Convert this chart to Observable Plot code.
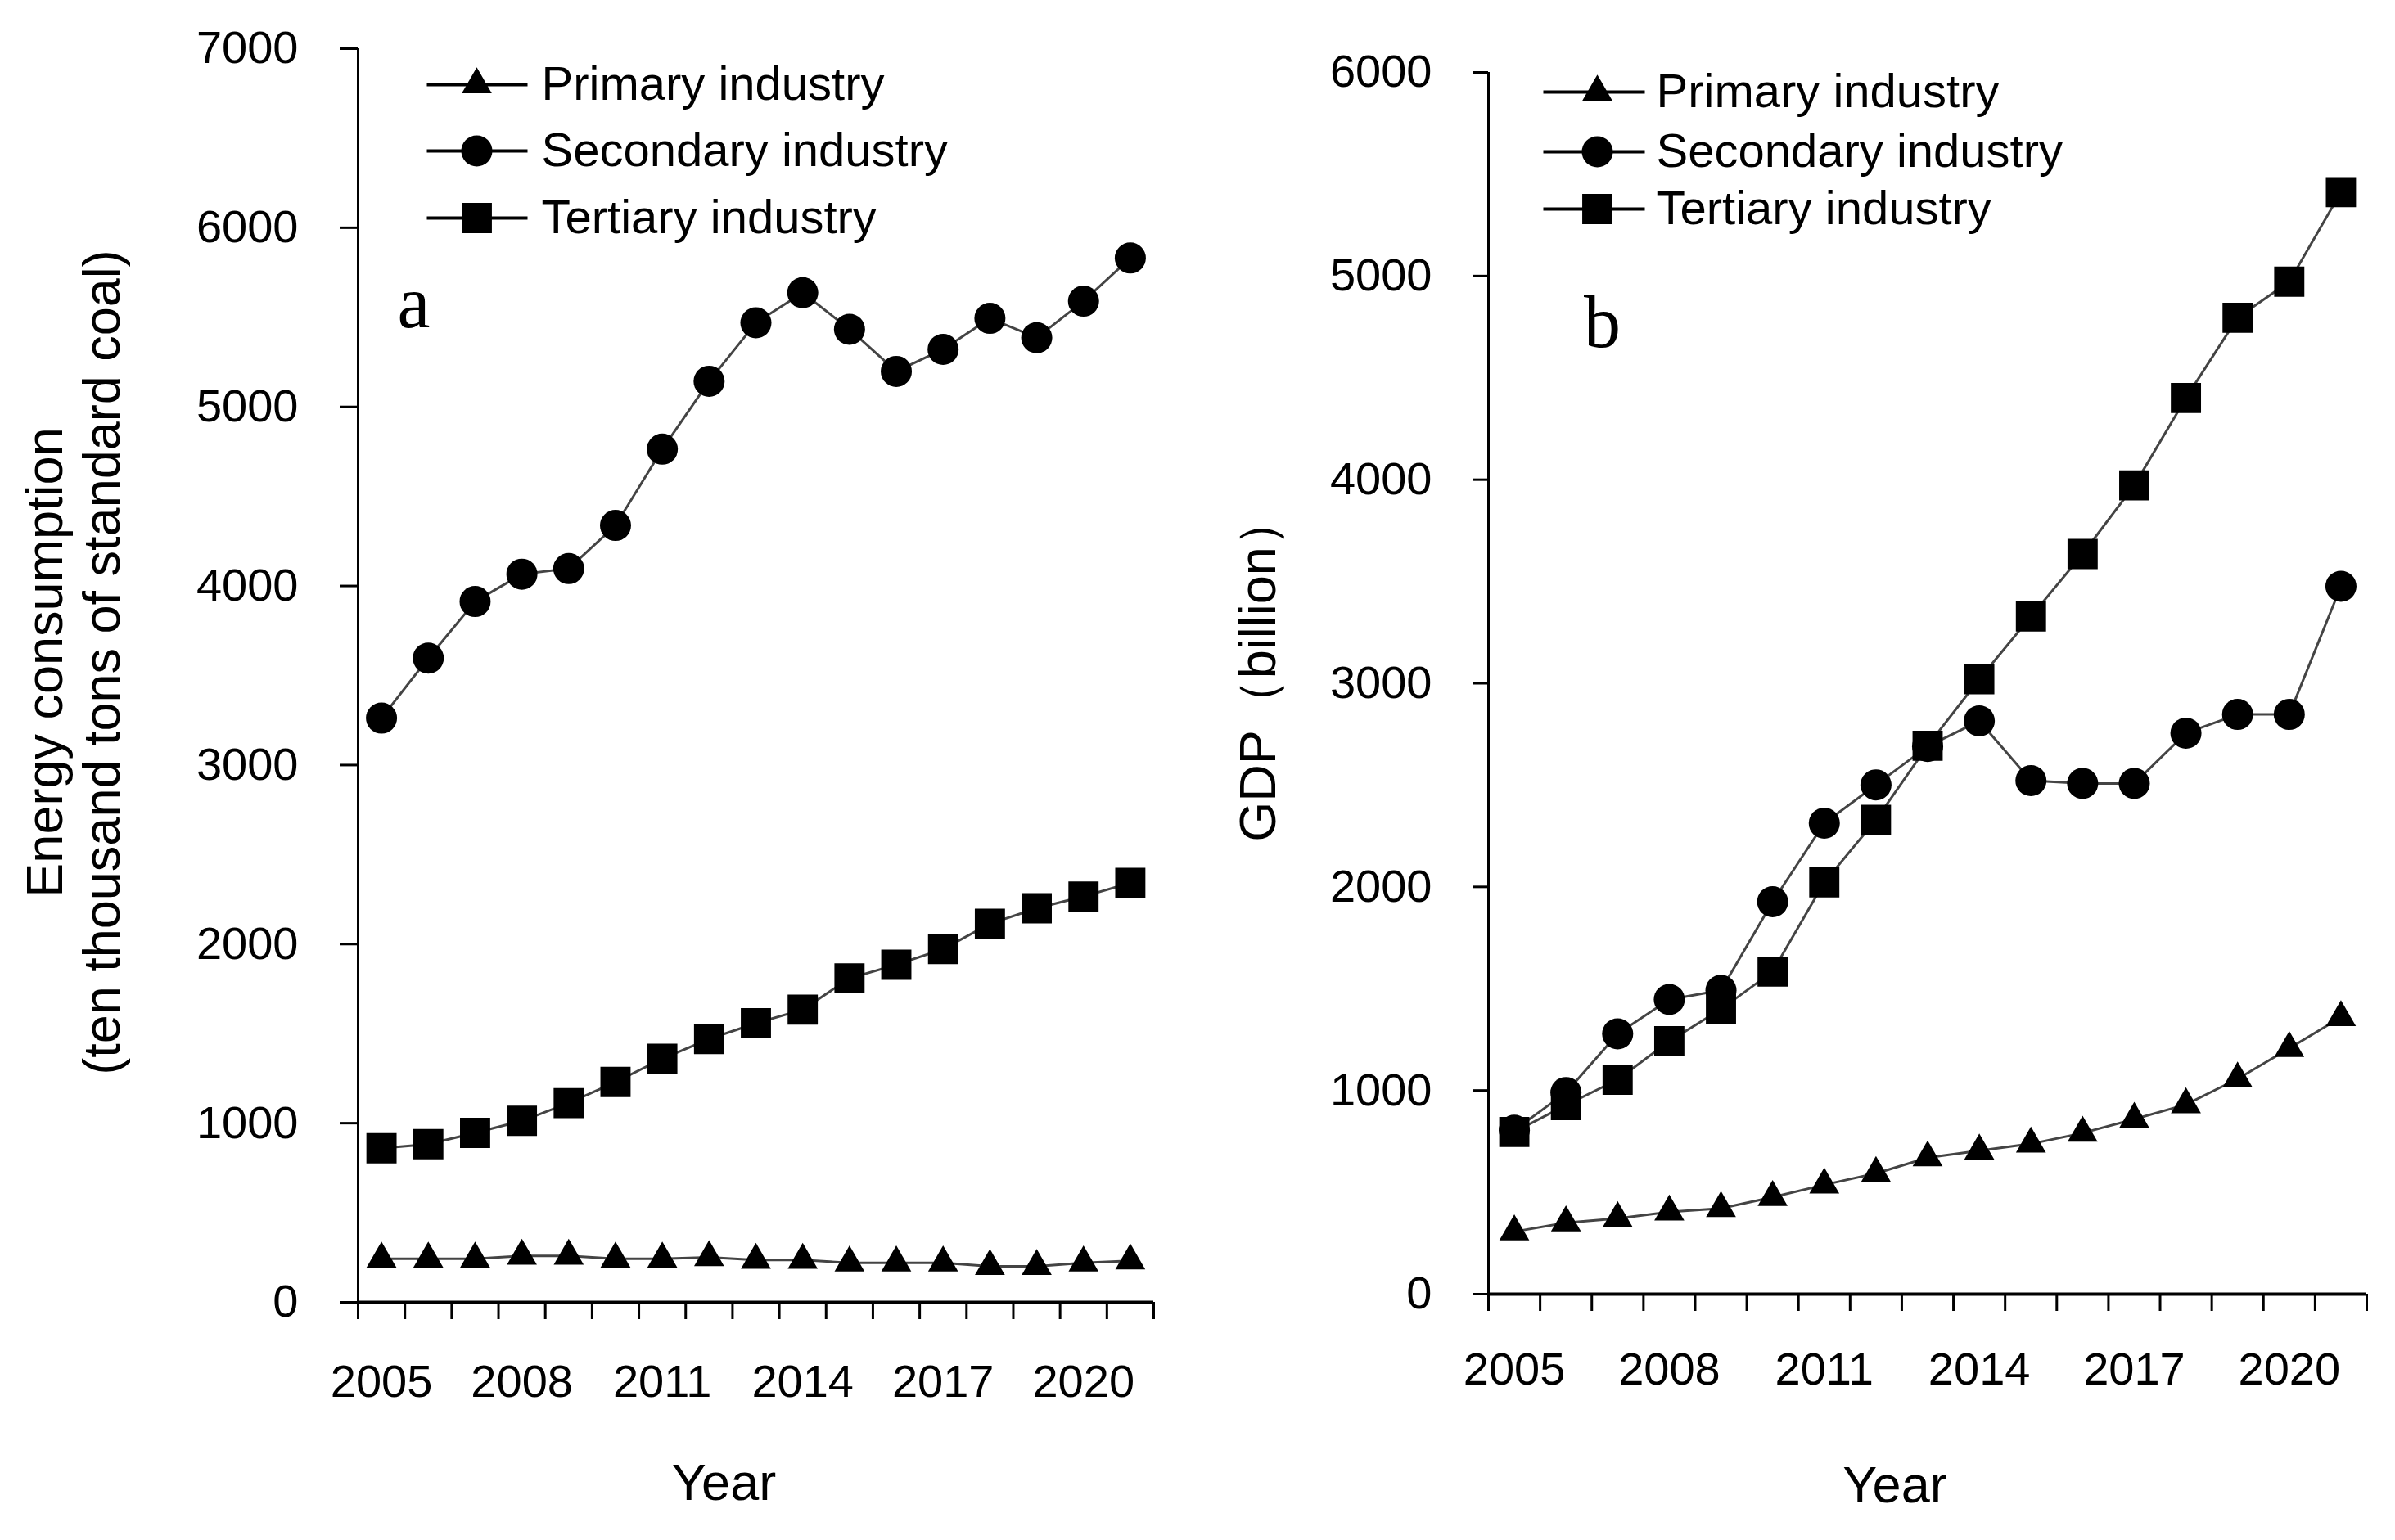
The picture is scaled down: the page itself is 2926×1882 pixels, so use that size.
<!DOCTYPE html>
<html>
<head>
<meta charset="utf-8">
<script src="https://cdn.jsdelivr.net/npm/d3@7"></script>
<script src="https://cdn.jsdelivr.net/npm/@observablehq/plot@0.6"></script>
<style>
  html, body { margin: 0; padding: 0; background: #fff; }
  #wrap { position: relative; width: 2926px; height: 1882px; background: #fff; }
  #panelA, #panelB { position: absolute; top: 0; }
  #panelA { left: 0; }
  #panelB { left: 1463px; }
</style>
</head>
<body>
<div id="wrap"><div id="panelA"></div><div id="panelB"></div></div>
<script>
// ---------------- data ----------------
const years = [2005, 2006, 2007, 2008, 2009, 2010, 2011, 2012, 2013, 2014, 2015, 2016, 2017, 2018, 2019, 2020, 2021];
const yearLabels = [2005, 2008, 2011, 2014, 2017, 2020];
const seriesNames = ["Primary industry", "Secondary industry", "Tertiary industry"];
const seriesSymbols = ["triangle", "circle", "square"];

// (a) Energy consumption, ten thousand tons of standard coal
const energyPrimary   = [243, 243, 243, 259, 259, 243, 243, 251, 236, 236, 221, 221, 221, 201, 201, 221, 232];
const energySecondary = [3262, 3597, 3913, 4066, 4097, 4338, 4764, 5143, 5469, 5637, 5433, 5198, 5321, 5494, 5386, 5590, 5831];
const energyTertiary  = [860, 883, 946, 1013, 1112, 1230, 1360, 1470, 1558, 1634, 1809, 1885, 1972, 2114, 2200, 2266, 2342];
const energyTicks = [0, 1000, 2000, 3000, 4000, 5000, 6000, 7000];

// (b) GDP, billion
const gdpPrimary   = [307, 351, 372, 404, 421, 476, 537, 593, 670, 704, 738, 791, 859, 931, 1057, 1207, 1359];
const gdpSecondary = [805, 990, 1278, 1447, 1492, 1927, 2313, 2501, 2690, 2815, 2522, 2508, 2508, 2755, 2847, 2847, 3476];
const gdpTertiary  = [796, 928, 1053, 1242, 1399, 1584, 2022, 2329, 2693, 3020, 3328, 3635, 3972, 4401, 4795, 4972, 5412];
const gdpTicks = [0, 1000, 2000, 3000, 4000, 5000, 6000];

// ---------------- drawing ----------------
const FONT = "'Liberation Sans', Arial, Helvetica, sans-serif";
const SERIF = "'Liberation Serif', 'Times New Roman', serif";

function makePanel(cfg) {
  const {W, H, ml, mr, mt, mb, yMax, ticks, values, ytickPad, ytickSize, xlabPad,
         ylabel, ylabelDx, ylabelDy, yearDx, yearDy, letter, letterX, letterBase,
         legLine, legMarker, legText, legRows} = cfg;
  const x0 = years[0] - 0.5, x1 = years[years.length - 1] + 0.5;
  const boundaries = years.map(y => y - 0.5).concat([x1]);
  const xInv = px => x0 + (px - ml) / (W - ml - mr) * (x1 - x0);
  const yInv = py => yMax * (1 - (py - mt) / (H - mt - mb));

  const rows = values.map((vals, s) => years.map((year, i) => ({year, value: vals[i], series: seriesNames[s]})));
  const sizes = {triangle: 13.6, circle: 19, square: 20.8};

  const seriesMarks = rows.flatMap((data, s) => [
    Plot.line(data, {x: "year", y: "value", stroke: "#444", strokeWidth: 3}),
    Plot.dot(data, {x: "year", y: "value", symbol: () => seriesSymbols[s], r: sizes[seriesSymbols[s]], fill: "#000", stroke: "none"})
  ]);

  const legendData = seriesNames.map((name, i) => ({name, symbol: seriesSymbols[i], py: legRows[i]}));
  const legendMarks = legendData.flatMap(d => [
    Plot.link([d], {x1: () => xInv(legLine[0]), x2: () => xInv(legLine[1]), y1: () => yInv(d.py), y2: () => yInv(d.py), stroke: "#000", strokeWidth: 4}),
    Plot.dot([d], {x: () => xInv(legMarker), y: () => yInv(d.py), symbol: () => d.symbol, r: sizes[d.symbol], fill: "#000", stroke: "none"}),
    Plot.text([d], {x: () => xInv(legText), y: () => yInv(d.py), text: "name", textAnchor: "start", lineAnchor: "middle", fontSize: 58, fill: "#000"})
  ]);

  return Plot.plot({
    width: W, height: H,
    marginLeft: ml, marginRight: mr, marginTop: mt, marginBottom: mb,
    style: {fontFamily: FONT, color: "#000", background: "#fff", overflow: "visible"},
    x: {type: "linear", domain: [x0, x1], axis: null},
    y: {type: "linear", domain: [0, yMax], axis: null},
    marks: [
      // y axis
      Plot.axisY({ticks, tickSize: ytickSize, tickPadding: ytickPad, fontSize: 56, strokeWidth: 3, tickFormat: d => String(d), label: null}),
      Plot.ruleX([x0], {stroke: "#000", strokeWidth: 3}),
      // x axis: category boundary ticks, then year labels
      Plot.axisX({ticks: boundaries, tickSize: 21, strokeWidth: 3, tickFormat: () => "", label: null}),
      Plot.axisX({ticks: yearLabels, tickSize: 0, tickPadding: xlabPad, fontSize: 56, tickFormat: d => String(d), label: null}),
      Plot.ruleY([0], {stroke: "#000", strokeWidth: 4}),
      // axis titles
      Plot.text([ylabel], {text: d => d, frameAnchor: "left", rotate: -90, textAnchor: "middle", lineAnchor: "bottom",
                           dx: ylabelDx, dy: ylabelDy, fontSize: 63, lineHeight: 1.11, fill: "#000"}),
      Plot.text(["Year"], {text: d => d, frameAnchor: "bottom", textAnchor: "middle", lineAnchor: "bottom",
                           dx: yearDx, dy: yearDy, fontSize: 63, fill: "#000"}),
      // panel letter
      Plot.text([letter], {text: d => d, frameAnchor: "top-left", textAnchor: "middle", lineAnchor: "bottom",
                           dx: letterX - ml, dy: letterBase - mt, fontSize: 90, fontFamily: SERIF, fill: "#000"}),
      ...seriesMarks,
      ...legendMarks
    ]
  });
}

const panelA = makePanel({
  W: 1463, H: 1882, ml: 437, mr: 54, mt: 59, mb: 291, yMax: 7000, ticks: energyTicks,
  values: [energyPrimary, energySecondary, energyTertiary],
  ytickPad: 51, ytickSize: 22, xlabPad: 76,
  ylabel: "Energy consumption\n(ten thousand tons of standard coal)", ylabelDx: -292, ylabelDy: -16,
  yearDx: -39, yearDy: 241,
  letter: "a", letterX: 505, letterBase: 399,
  legLine: [521, 644], legMarker: 582, legText: 661, legRows: [103, 184, 266]
});
document.getElementById("panelA").appendChild(panelA);

const panelB = makePanel({
  W: 1463, H: 1882, ml: 355, mr: 35, mt: 88, mb: 301, yMax: 6000, ticks: gdpTicks,
  values: [gdpPrimary, gdpSecondary, gdpTertiary],
  ytickPad: 50, ytickSize: 19, xlabPad: 71,
  ylabel: "GDP（billion）", ylabelDx: -261, ylabelDy: -18,
  yearDx: -40, yearDy: 254,
  letter: "b", letterX: 494, letterBase: 423,
  legLine: [422, 546], legMarker: 488, legText: 560, legRows: [112, 185, 255]
});
document.getElementById("panelB").appendChild(panelB);
</script>
</body>
</html>
